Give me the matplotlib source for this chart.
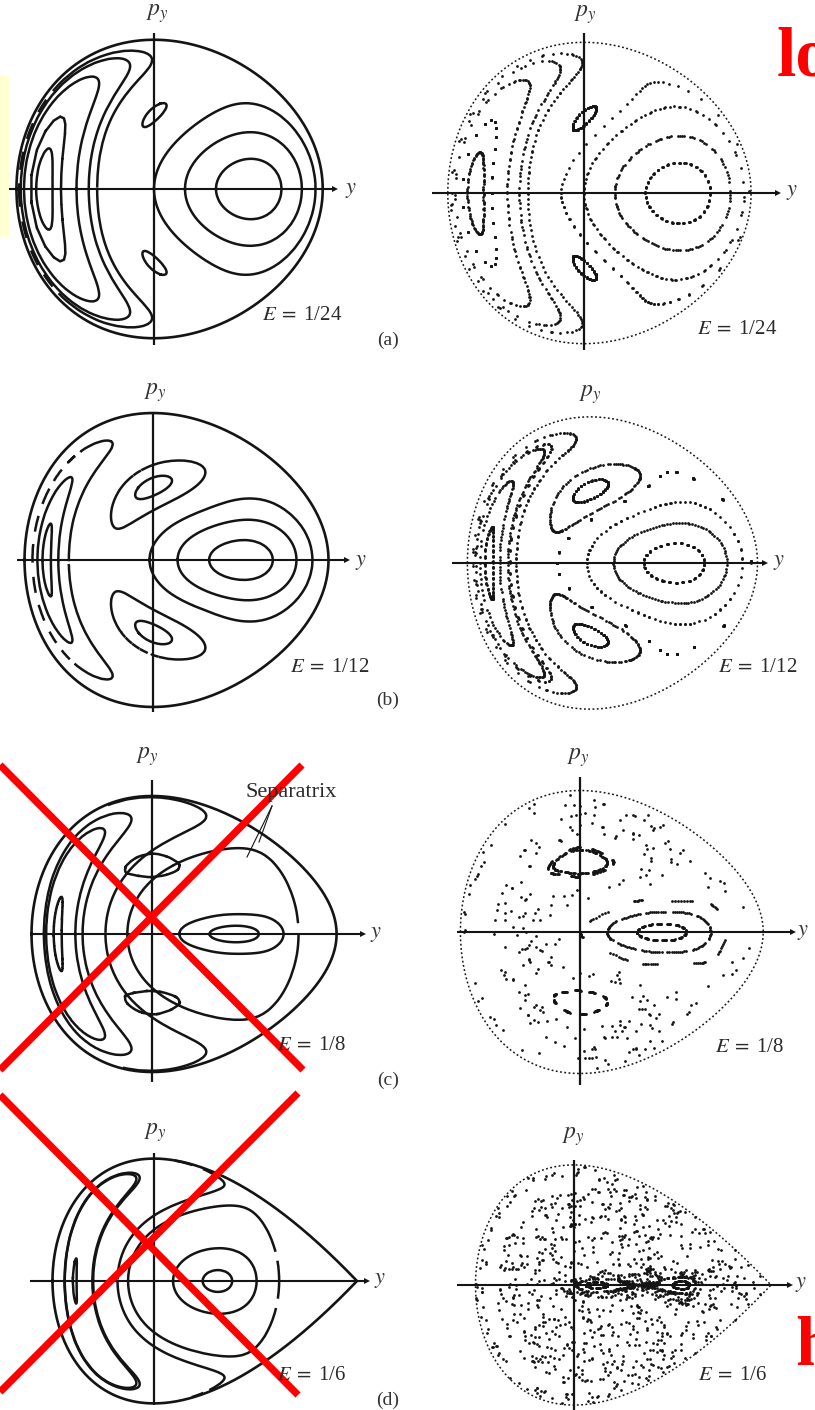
import numpy as np
import matplotlib
matplotlib.use("Agg")
import matplotlib.pyplot as plt
from matplotlib.patches import Rectangle

plt.rcParams["mathtext.fontset"] = "stix"
plt.rcParams["font.family"] = ["Liberation Serif", "DejaVu Serif"]

W, H = 815, 1410

# energies, one per row
energies = [1 / 24, 1 / 12, 1 / 8, 1 / 6]
energy_text = ["1/24", "1/12", "1/8", "1/6"]
row_tags = ["(a)", "(b)", "(c)", "(d)"]

# Henon-Heiles starting points (y, p_y) at x = 0: invariant curves
tori_a = [(0.12, 0.0), (0.06, 0.0), (0.0, 0.0), (-0.11, 0.0), (-0.15, 0.0),
          (-0.18, 0.0), (-0.228, 0.0), (-0.258, 0.0), (0.012, 0.165), (0.012, -0.165)]
tori_b = [(0.16, 0.0), (0.07, 0.0), (-0.01, 0.0), (-0.24, 0.0), (-0.27, 0.0),
          (-0.315, 0.0), (-0.095, 0.195), (-0.095, -0.195), (0.04, 0.2), (0.04, -0.2)]
tori_c = [(0.21, 0.0), (0.1, 0.0), (0.1, 0.25), (0.1, -0.25)]
tori_d = []
# Henon-Heiles starting points inside the stochastic layers
sea_a = [(-0.045, 0.0)]
sea_b = [(-0.1, 0.0), (-0.33, 0.1), (-0.35, 0.0)]
sea_c = [(0.0, 0.0), (-0.2, 0.0), (0.3, 0.2), (-0.3, 0.1), (-0.425, 0.0), (0.0, 0.3)]
sea_d = [(0.0, 0.0), (0.2, 0.1), (-0.2, -0.2), (0.5, 0.0), (-0.3, 0.2),
         (0.35, 0.0), (0.42, 0.0)]

# integrable (Toda) curves added where the Henon-Heiles section is stochastic
curves_c = [(-0.17, 0.0), (-0.28, 0.0), (-0.33, 0.0), (-0.395, 0.0), (0.08, 0.25)]
curves_d = [(0.24, 0.0), (0.094, 0.0), (-0.18, 0.0), (-0.30, 0.0), (-0.40, 0.0),
            (-0.44, 0.0), (0.08, 0.289)]

tori = [tori_a, tori_b, tori_c, tori_d]
seas = [sea_a, sea_b, sea_c, sea_d]
toda_rows = {2: curves_c, 3: curves_d}
n_torus_dots = [110, 110, 110, 200]
n_sea_dots = [90, 150, 70, 210]

N_CROSS = 400
R3 = np.sqrt(3.0)


def hh_force(x, y):
    return -x - 2 * x * y, -y - x * x + y * y


def hh_pot0(y):
    return y ** 2 / 2 - y ** 3 / 3


def toda_force(x, y):
    e2y = np.exp(2 * y)
    ex = np.exp(2 * R3 * x)
    a, b, c = e2y * ex, e2y / ex, 1 / (e2y * e2y)
    return -(R3 / 12) * (a - b), -(a + b - 2 * c) / 12


def toda_pot0(y):
    return (2 * np.exp(2 * y) + np.exp(-4 * y)) / 24 - 1 / 8


def integrate(starts, ens, force, pot0, n_cross=N_CROSS, dt=0.08, max_steps=50000):
    y0 = np.array([s[0] for s in starts])
    p0 = np.array([s[1] for s in starts])
    en = np.array(ens)
    px0 = np.sqrt(np.maximum(2 * (en - pot0(y0)) - p0 ** 2, 0))
    s = np.vstack([np.zeros_like(y0), y0, px0, p0])
    n = len(y0)
    ys = np.full((n, n_cross), np.nan)
    ps = np.full((n, n_cross), np.nan)
    ys[:, 0], ps[:, 0] = y0, p0
    cnt = np.ones(n, int)

    def f(s):
        fx, fy = force(s[0], s[1])
        return np.array([s[2], s[3], fx, fy])

    for step in range(max_steps):
        k1 = f(s)
        k2 = f(s + 0.5 * dt * k1)
        k3 = f(s + 0.5 * dt * k2)
        k4 = f(s + dt * k3)
        s_new = s + dt / 6 * (k1 + 2 * k2 + 2 * k3 + k4)
        hit = (s[0] < 0) & (s_new[0] >= 0) & (cnt < n_cross)
        if hit.any():
            idx = np.nonzero(hit)[0]
            fr = s[0, idx] / (s[0, idx] - s_new[0, idx])
            ys[idx, cnt[idx]] = s[1, idx] + fr * (s_new[1, idx] - s[1, idx])
            ps[idx, cnt[idx]] = s[3, idx] + fr * (s_new[3, idx] - s[3, idx])
            cnt[idx] += 1
        s = s_new
        if step % 500 == 0 and cnt.min() >= n_cross:
            break
    return ys, ps


def polar_loop(pts):
    # closed loop by polar angle about the centre, only if the radius varies smoothly
    c = pts.mean(axis=0)
    ang = np.arctan2(pts[:, 1] - c[1], pts[:, 0] - c[0])
    q = pts[np.argsort(ang)]
    r = np.hypot(q[:, 0] - c[0], q[:, 1] - c[1])
    jump = np.abs(np.diff(np.r_[r, r[:1]]))
    if np.percentile(jump, 95) < 0.12 * np.median(r):
        return np.vstack([q, q[:1]])
    return None


def chain(pts, gap=12.0):
    # order scattered section points into polylines by nearest neighbours
    n = len(pts)
    d = np.hypot(pts[:, None, 0] - pts[None, :, 0], pts[:, None, 1] - pts[None, :, 1])
    seen = np.zeros(n, bool)
    order = [0]
    seen[0] = True
    for _ in range(n - 1):
        row = np.where(seen, np.inf, d[order[-1]])
        j = int(np.argmin(row))
        order.append(j)
        seen[j] = True
    p = pts[order]
    step = np.hypot(*np.diff(p, axis=0).T)
    lim = gap * np.median(step)
    pieces = np.split(p, np.nonzero(step > lim)[0] + 1)
    out = []
    for q in pieces:
        if len(q) < 4:
            continue
        if np.hypot(*(q[0] - q[-1])) < lim:
            q = np.vstack([q, q[:1]])
        out.append(q)
    if len(out) > 6:
        loop = polar_loop(pts)
        if loop is not None:
            out = [loop]
    return out


def boundary(E):
    r = np.sort(np.roots([1 / 3, -1 / 2, 0, E]).real)
    lo, hi = r[0], r[1]
    t = np.linspace(0, np.pi, 400)
    yy = lo + (hi - lo) * (1 - np.cos(t)) / 2
    pp = np.sqrt(np.maximum(2 * E - yy ** 2 + 2 * yy ** 3 / 3, 0))
    return np.r_[yy, yy[::-1]], np.r_[pp, -pp[::-1]]


# Henon-Heiles orbits for all rows in one pass
hh_starts, hh_en, hh_owner = [], [], []
for k in range(4):
    for s in tori[k]:
        hh_starts.append(s); hh_en.append(energies[k]); hh_owner.append((k, "torus"))
    for s in seas[k]:
        hh_starts.append(s); hh_en.append(energies[k]); hh_owner.append((k, "sea"))
hh_y, hh_p = integrate(hh_starts, hh_en, hh_force, hh_pot0)

# Toda orbits for the two upper-energy rows
td_starts, td_en, td_owner = [], [], []
for k, lst in toda_rows.items():
    for s in lst:
        td_starts.append(s); td_en.append(energies[k]); td_owner.append(k)
td_y, td_p = integrate(td_starts, td_en, toda_force, toda_pot0)

# page layout in pixels
left_origin = [(154, 189), (153, 560), (152, 934), (154, 1281)]
left_scale = [(517, 517), (351, 360), (274, 276), (203, 212)]
right_origin = [(584, 193), (590, 563), (580, 932), (574, 1285)]
right_scale = [(512, 522), (335, 358), (272, 283), (197, 208)]
left_h = [(9, 335), (17, 347), (30, 363), (30, 367)]
right_h = [(432, 778), (452, 765), (457, 793), (457, 790)]
left_v = [(33, 345), (413, 712), (780, 1082), (1153, 1405)]
right_v = [(33, 350), None, (777, 1085), (1160, 1412)]
row_edges = [(0, 365), (365, 740), (740, 1090), (1090, 1410)]
left_py = [(157, 14), (155, 393), (147, 757), (155, 1133)]
right_py = [(585, 15), (590, 395), (578, 758), (573, 1137)]
left_ylab = [(345, 190), (355, 562), (370, 934), (374, 1281)]
right_ylab = [(786, 193), (773, 563), (797, 932), (795, 1285)]
left_elab = [(262, 315), (290, 667), (277, 1045), (277, 1375)]
right_elab = [(697, 330), (718, 668), (715, 1048), (698, 1375)]
tag_pos = [(388, 340), (388, 700), (388, 1080), (388, 1400)]

fig = plt.figure(figsize=(W / 100, H / 100), dpi=100)
fig.patch.set_facecolor("white")
ink = "#141414"


def panel_axes(x0, x1, row, origin, scale):
    y0, y1 = row_edges[row]
    cx, cy = origin
    sx, sy = scale
    ax = fig.add_axes([x0 / W, 1 - y1 / H, (x1 - x0) / W, (y1 - y0) / H])
    ax.set_xlim((x0 - cx) / sx, (x1 - cx) / sx)
    ax.set_ylim((cy - y1) / sy, (cy - y0) / sy)
    ax.axis("off")
    ax.patch.set_alpha(0)
    return ax


def draw_axes_lines(ax, origin, scale, hspan, vspan):
    cx, cy = origin
    sx, sy = scale
    a, b = (hspan[0] - cx) / sx, (hspan[1] - cx) / sx
    ax.plot([a, b], [0, 0], color=ink, lw=1.5, solid_capstyle="butt")
    ax.plot([b], [0], marker=">", ms=5, color=ink, mew=0)
    if vspan is not None:
        t, u = (cy - vspan[0]) / sy, (cy - vspan[1]) / sy
        ax.plot([0, 0], [u, t], color=ink, lw=1.6, solid_capstyle="butt")


def ftxt(x, y, s, **kw):
    fig.text(x / W, 1 - y / H, s, **kw)


def smooth_curves(ax, ys, ps, scale):
    sx, sy = scale
    good = ~np.isnan(ys)
    pts = np.c_[ys[good] * sx, ps[good] * sy]
    for q in chain(pts):
        ax.plot(q[:, 0] / sx, q[:, 1] / sy, color=ink, lw=1.8)


for k in range(4):
    E = energies[k]
    by, bp = boundary(E)

    # left: smooth invariant curves
    axl = panel_axes(0, 407, k, left_origin[k], left_scale[k])
    axl.plot(by, bp, color=ink, lw=1.9)
    for i, o in enumerate(hh_owner):
        if o == (k, "torus"):
            smooth_curves(axl, hh_y[i], hh_p[i], left_scale[k])
    if k in toda_rows:
        for i, o in enumerate(td_owner):
            if o == k:
                smooth_curves(axl, td_y[i], td_p[i], left_scale[k])
    draw_axes_lines(axl, left_origin[k], left_scale[k], left_h[k], left_v[k])

    # right: numerical surface of section
    axr = panel_axes(407, 815, k, right_origin[k], right_scale[k])
    axr.plot(by, bp, color=ink, lw=1.1, ls=(0, (1.2, 1.6)))
    for i, o in enumerate(hh_owner):
        if o[0] != k:
            continue
        m = n_torus_dots[k] if o[1] == "torus" else n_sea_dots[k]
        axr.plot(hh_y[i][:m], hh_p[i][:m], ls="none", marker="o", ms=2.0,
                 mew=0, color=ink)
    draw_axes_lines(axr, right_origin[k], right_scale[k], right_h[k], right_v[k])

    for pos in (left_py[k], right_py[k]):
        ftxt(*pos, r"$p_y$", fontsize=17, ha="center", va="center", color="#333333")
    for pos in (left_ylab[k], right_ylab[k]):
        ftxt(*pos, r"$y$", fontsize=16, ha="left", va="center", color="#333333")
    for pos in (left_elab[k], right_elab[k]):
        ftxt(*pos, r"$E\;=\;$" + energy_text[k], fontsize=15, ha="left",
             va="center", color="#2a2a2a")
    ftxt(*tag_pos[k], row_tags[k], fontsize=14, ha="center", va="center",
         color="#333333")

ftxt(246, 792, "Separatrix", fontsize=16, ha="left", va="center", color="#2a2a2a")

# overlay: marks on top of the page
ov = fig.add_axes([0, 0, 1, 1])
ov.set_xlim(0, W)
ov.set_ylim(H, 0)
ov.axis("off")
ov.patch.set_alpha(0)
ov.plot([272, 247], [806, 857], color=ink, lw=0.8)
ov.plot([272, 259], [806, 842], color=ink, lw=0.8)
ov.add_patch(Rectangle((0, 76), 9, 161, facecolor="#ffffd2", edgecolor="none"))
red = "#ff0000"
ov.plot([0, 303], [765, 1070], color=red, lw=5.2, solid_capstyle="butt")
ov.plot([302, 0], [765, 1070], color=red, lw=5.2, solid_capstyle="butt")
ov.plot([0, 298], [1095, 1395], color=red, lw=5.2, solid_capstyle="butt")
ov.plot([298, 0], [1093, 1392], color=red, lw=5.2, solid_capstyle="butt")
ftxt(777, 75, "lo", fontsize=50, fontweight="bold", color=red, ha="left",
     va="baseline")
ftxt(795, 1365, "h", fontsize=50, fontweight="bold", color=red, ha="left",
     va="baseline")

fig.savefig("out.png", dpi=100)
